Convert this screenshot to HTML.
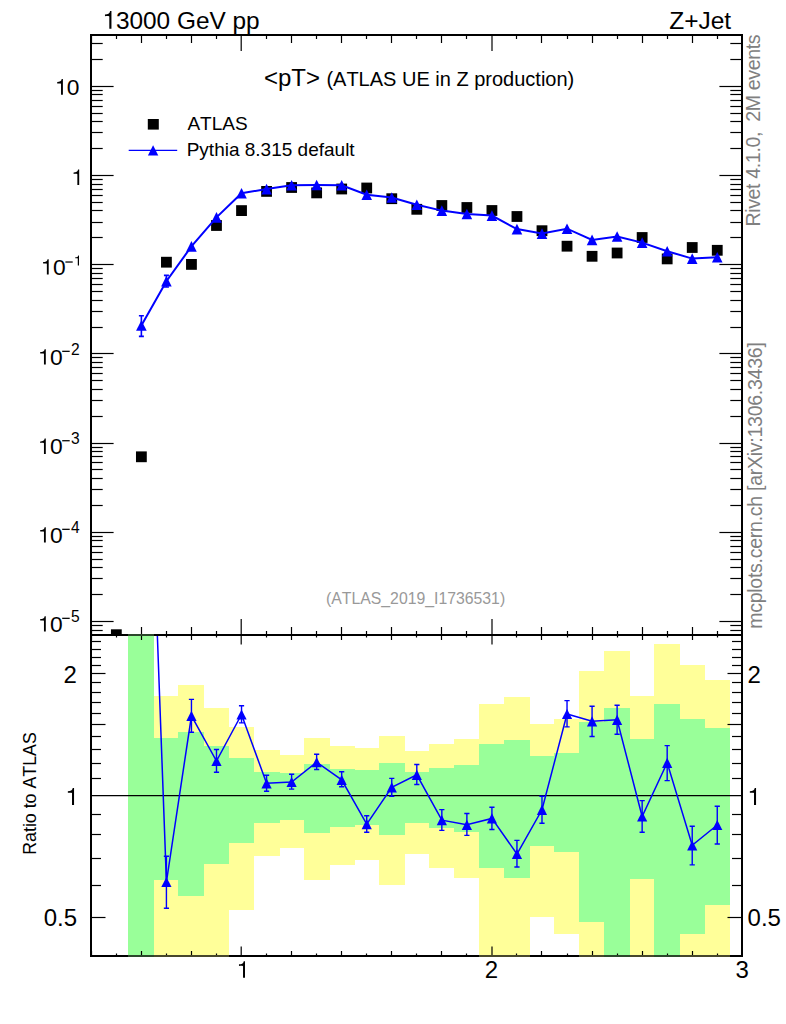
<!DOCTYPE html><html><head><meta charset="utf-8"><style>html,body{margin:0;padding:0;background:#fff;width:786px;height:1024px;overflow:hidden}</style></head><body><svg width="786" height="1024" viewBox="0 0 786 1024" style="position:absolute;left:0;top:0"><defs><clipPath id="cm"><rect x="91" y="35" width="651" height="599"/></clipPath><clipPath id="cr"><rect x="91" y="635" width="651" height="321"/></clipPath></defs><g clip-path="url(#cr)" shape-rendering="crispEdges"><rect x="128.00" y="635" width="26.00" height="321.00" fill="#99ff99"/><rect x="154.00" y="695.9" width="24.00" height="260.10" fill="#ffff99"/><rect x="154.00" y="738.3" width="24.00" height="141.40" fill="#99ff99"/><rect x="178.00" y="685" width="26.00" height="271.00" fill="#ffff99"/><rect x="178.00" y="731.6" width="26.00" height="164.00" fill="#99ff99"/><rect x="204.00" y="707.5" width="25.00" height="248.50" fill="#ffff99"/><rect x="204.00" y="746" width="25.00" height="118.00" fill="#99ff99"/><rect x="229.00" y="727" width="25.00" height="183.00" fill="#ffff99"/><rect x="229.00" y="757.8" width="25.00" height="85.50" fill="#99ff99"/><rect x="254.00" y="750.3" width="26.00" height="105.40" fill="#ffff99"/><rect x="254.00" y="771.7" width="26.00" height="51.10" fill="#99ff99"/><rect x="280.00" y="754.7" width="24.00" height="93.30" fill="#ffff99"/><rect x="280.00" y="773.4" width="24.00" height="46.70" fill="#99ff99"/><rect x="304.00" y="737.8" width="26.00" height="142.20" fill="#ffff99"/><rect x="304.00" y="764.2" width="26.00" height="68.80" fill="#99ff99"/><rect x="330.00" y="746.2" width="25.00" height="118.80" fill="#ffff99"/><rect x="330.00" y="769" width="25.00" height="58.20" fill="#99ff99"/><rect x="355.00" y="748" width="24.00" height="112.10" fill="#ffff99"/><rect x="355.00" y="770.2" width="24.00" height="54.50" fill="#99ff99"/><rect x="379.00" y="736" width="26.00" height="149.00" fill="#ffff99"/><rect x="379.00" y="763" width="26.00" height="71.60" fill="#99ff99"/><rect x="405.00" y="750.6" width="24.00" height="103.40" fill="#ffff99"/><rect x="405.00" y="772" width="24.00" height="50.80" fill="#99ff99"/><rect x="429.00" y="744" width="25.00" height="124.10" fill="#ffff99"/><rect x="429.00" y="767.7" width="25.00" height="60.20" fill="#99ff99"/><rect x="454.00" y="739" width="25.00" height="139.00" fill="#ffff99"/><rect x="454.00" y="765.2" width="25.00" height="66.80" fill="#99ff99"/><rect x="479.00" y="704.1" width="25.00" height="251.90" fill="#ffff99"/><rect x="479.00" y="744.2" width="25.00" height="124.20" fill="#99ff99"/><rect x="504.00" y="697.4" width="26.00" height="258.60" fill="#ffff99"/><rect x="504.00" y="739.7" width="26.00" height="137.90" fill="#99ff99"/><rect x="530.00" y="724.1" width="24.00" height="192.70" fill="#ffff99"/><rect x="530.00" y="756.1" width="24.00" height="90.00" fill="#99ff99"/><rect x="554.00" y="719.3" width="25.00" height="214.60" fill="#ffff99"/><rect x="554.00" y="753.1" width="25.00" height="98.40" fill="#99ff99"/><rect x="579.00" y="671.2" width="25.00" height="284.80" fill="#ffff99"/><rect x="579.00" y="722" width="25.00" height="199.90" fill="#99ff99"/><rect x="604.00" y="650.5" width="26.00" height="305.50" fill="#ffff99"/><rect x="604.00" y="707.9" width="26.00" height="248.10" fill="#99ff99"/><rect x="630.00" y="695.8" width="24.00" height="260.20" fill="#ffff99"/><rect x="630.00" y="738.9" width="24.00" height="140.10" fill="#99ff99"/><rect x="654.00" y="643.8" width="26.00" height="312.20" fill="#ffff99"/><rect x="654.00" y="704.3" width="26.00" height="251.70" fill="#99ff99"/><rect x="680.00" y="665.2" width="25.00" height="290.80" fill="#ffff99"/><rect x="680.00" y="718.5" width="25.00" height="215.60" fill="#99ff99"/><rect x="705.00" y="679.9" width="25.00" height="276.10" fill="#ffff99"/><rect x="705.00" y="728.1" width="25.00" height="176.90" fill="#99ff99"/></g><line x1="91.0" y1="795.6" x2="742.0" y2="795.6" stroke="#000" stroke-width="1.3"/><g clip-path="url(#cm)"><rect x="135.98" y="451.40" width="10.8" height="10.8" fill="#000"/><rect x="161.02" y="256.80" width="10.8" height="10.8" fill="#000"/><rect x="186.05" y="259.00" width="10.8" height="10.8" fill="#000"/><rect x="211.09" y="220.10" width="10.8" height="10.8" fill="#000"/><rect x="236.13" y="205.20" width="10.8" height="10.8" fill="#000"/><rect x="261.17" y="186.00" width="10.8" height="10.8" fill="#000"/><rect x="286.21" y="182.10" width="10.8" height="10.8" fill="#000"/><rect x="311.25" y="187.50" width="10.8" height="10.8" fill="#000"/><rect x="336.28" y="183.60" width="10.8" height="10.8" fill="#000"/><rect x="361.32" y="182.60" width="10.8" height="10.8" fill="#000"/><rect x="386.36" y="193.30" width="10.8" height="10.8" fill="#000"/><rect x="411.40" y="203.90" width="10.8" height="10.8" fill="#000"/><rect x="436.44" y="200.10" width="10.8" height="10.8" fill="#000"/><rect x="461.48" y="202.10" width="10.8" height="10.8" fill="#000"/><rect x="486.52" y="205.10" width="10.8" height="10.8" fill="#000"/><rect x="511.55" y="211.10" width="10.8" height="10.8" fill="#000"/><rect x="536.59" y="225.30" width="10.8" height="10.8" fill="#000"/><rect x="561.63" y="240.80" width="10.8" height="10.8" fill="#000"/><rect x="586.67" y="250.90" width="10.8" height="10.8" fill="#000"/><rect x="611.71" y="247.60" width="10.8" height="10.8" fill="#000"/><rect x="636.75" y="232.10" width="10.8" height="10.8" fill="#000"/><rect x="661.78" y="253.50" width="10.8" height="10.8" fill="#000"/><rect x="686.82" y="242.10" width="10.8" height="10.8" fill="#000"/><rect x="711.86" y="244.90" width="10.8" height="10.8" fill="#000"/><rect x="110.94" y="629.3" width="10.8" height="10.8" fill="#000"/><path d="M141.38,315.70 V336.40 M138.88,315.70 H143.88 M138.88,336.40 H143.88" stroke="#0000ff" stroke-width="1.6" fill="none"/><path d="M166.42,275.40 V287.00 M163.92,275.40 H168.92 M163.92,287.00 H168.92" stroke="#0000ff" stroke-width="1.6" fill="none"/><polyline points="141.38,325.50 166.42,281.20 191.45,246.40 216.49,217.40 241.53,193.20 266.57,189.10 291.61,185.20 316.65,185.00 341.68,185.20 366.72,194.80 391.76,197.50 416.80,204.80 441.84,210.60 466.88,214.00 491.92,215.60 516.95,229.10 541.99,233.60 567.03,228.70 592.07,239.90 617.11,236.50 642.15,242.60 667.18,251.20 692.22,258.60 717.26,257.20" fill="none" stroke="#0000ff" stroke-width="2"/><path d="M136.08,330.80 L146.68,330.80 L141.38,320.20 Z" fill="#0000ff"/><path d="M161.12,286.50 L171.72,286.50 L166.42,275.90 Z" fill="#0000ff"/><path d="M186.15,251.70 L196.75,251.70 L191.45,241.10 Z" fill="#0000ff"/><path d="M211.19,222.70 L221.79,222.70 L216.49,212.10 Z" fill="#0000ff"/><path d="M236.23,198.50 L246.83,198.50 L241.53,187.90 Z" fill="#0000ff"/><path d="M261.27,194.40 L271.87,194.40 L266.57,183.80 Z" fill="#0000ff"/><path d="M286.31,190.50 L296.91,190.50 L291.61,179.90 Z" fill="#0000ff"/><path d="M311.35,190.30 L321.95,190.30 L316.65,179.70 Z" fill="#0000ff"/><path d="M336.38,190.50 L346.98,190.50 L341.68,179.90 Z" fill="#0000ff"/><path d="M361.42,200.10 L372.02,200.10 L366.72,189.50 Z" fill="#0000ff"/><path d="M386.46,202.80 L397.06,202.80 L391.76,192.20 Z" fill="#0000ff"/><path d="M411.50,210.10 L422.10,210.10 L416.80,199.50 Z" fill="#0000ff"/><path d="M436.54,215.90 L447.14,215.90 L441.84,205.30 Z" fill="#0000ff"/><path d="M461.58,219.30 L472.18,219.30 L466.88,208.70 Z" fill="#0000ff"/><path d="M486.62,220.90 L497.22,220.90 L491.92,210.30 Z" fill="#0000ff"/><path d="M511.65,234.40 L522.25,234.40 L516.95,223.80 Z" fill="#0000ff"/><path d="M536.69,238.90 L547.29,238.90 L541.99,228.30 Z" fill="#0000ff"/><path d="M561.73,234.00 L572.33,234.00 L567.03,223.40 Z" fill="#0000ff"/><path d="M586.77,245.20 L597.37,245.20 L592.07,234.60 Z" fill="#0000ff"/><path d="M611.81,241.80 L622.41,241.80 L617.11,231.20 Z" fill="#0000ff"/><path d="M636.85,247.90 L647.45,247.90 L642.15,237.30 Z" fill="#0000ff"/><path d="M661.88,256.50 L672.48,256.50 L667.18,245.90 Z" fill="#0000ff"/><path d="M686.92,263.90 L697.52,263.90 L692.22,253.30 Z" fill="#0000ff"/><path d="M711.96,262.50 L722.56,262.50 L717.26,251.90 Z" fill="#0000ff"/></g><g clip-path="url(#cr)"><polyline points="141.38,200.93 166.42,882.00 191.45,715.80 216.49,761.00 241.53,714.50 266.57,783.30 291.61,782.00 316.65,762.20 341.68,779.80 366.72,824.20 391.76,787.40 416.80,774.80 441.84,820.20 466.88,824.80 491.92,818.40 516.95,854.00 541.99,809.80 567.03,714.00 592.07,721.30 617.11,719.80 642.15,816.50 667.18,762.80 692.22,845.30 717.26,825.00" fill="none" stroke="#0000ff" stroke-width="1.5"/><path d="M166.42,856.30 V908.30 M163.82,856.30 H169.02 M163.82,908.30 H169.02" stroke="#0000ff" stroke-width="1.4" fill="none"/><path d="M191.45,699.40 V732.30 M188.85,699.40 H194.05 M188.85,732.30 H194.05" stroke="#0000ff" stroke-width="1.4" fill="none"/><path d="M216.49,749.50 V772.20 M213.89,749.50 H219.09 M213.89,772.20 H219.09" stroke="#0000ff" stroke-width="1.4" fill="none"/><path d="M241.53,705.70 V722.90 M238.93,705.70 H244.13 M238.93,722.90 H244.13" stroke="#0000ff" stroke-width="1.4" fill="none"/><path d="M266.57,775.20 V791.20 M263.97,775.20 H269.17 M263.97,791.20 H269.17" stroke="#0000ff" stroke-width="1.4" fill="none"/><path d="M291.61,774.30 V789.10 M289.01,774.30 H294.21 M289.01,789.10 H294.21" stroke="#0000ff" stroke-width="1.4" fill="none"/><path d="M316.65,754.20 V769.50 M314.05,754.20 H319.25 M314.05,769.50 H319.25" stroke="#0000ff" stroke-width="1.4" fill="none"/><path d="M341.68,771.70 V786.80 M339.08,771.70 H344.28 M339.08,786.80 H344.28" stroke="#0000ff" stroke-width="1.4" fill="none"/><path d="M366.72,815.70 V832.20 M364.12,815.70 H369.32 M364.12,832.20 H369.32" stroke="#0000ff" stroke-width="1.4" fill="none"/><path d="M391.76,778.40 V796.20 M389.16,778.40 H394.36 M389.16,796.20 H394.36" stroke="#0000ff" stroke-width="1.4" fill="none"/><path d="M416.80,764.50 V784.50 M414.20,764.50 H419.40 M414.20,784.50 H419.40" stroke="#0000ff" stroke-width="1.4" fill="none"/><path d="M441.84,809.60 V830.40 M439.24,809.60 H444.44 M439.24,830.40 H444.44" stroke="#0000ff" stroke-width="1.4" fill="none"/><path d="M466.88,813.50 V835.40 M464.28,813.50 H469.48 M464.28,835.40 H469.48" stroke="#0000ff" stroke-width="1.4" fill="none"/><path d="M491.92,807.30 V829.50 M489.32,807.30 H494.52 M489.32,829.50 H494.52" stroke="#0000ff" stroke-width="1.4" fill="none"/><path d="M516.95,840.40 V867.00 M514.35,840.40 H519.55 M514.35,867.00 H519.55" stroke="#0000ff" stroke-width="1.4" fill="none"/><path d="M541.99,796.20 V823.30 M539.39,796.20 H544.59 M539.39,823.30 H544.59" stroke="#0000ff" stroke-width="1.4" fill="none"/><path d="M567.03,700.60 V726.90 M564.43,700.60 H569.63 M564.43,726.90 H569.63" stroke="#0000ff" stroke-width="1.4" fill="none"/><path d="M592.07,706.30 V736.50 M589.47,706.30 H594.67 M589.47,736.50 H594.67" stroke="#0000ff" stroke-width="1.4" fill="none"/><path d="M617.11,705.30 V734.20 M614.51,705.30 H619.71 M614.51,734.20 H619.71" stroke="#0000ff" stroke-width="1.4" fill="none"/><path d="M642.15,800.60 V832.30 M639.55,800.60 H644.75 M639.55,832.30 H644.75" stroke="#0000ff" stroke-width="1.4" fill="none"/><path d="M667.18,745.60 V780.60 M664.58,745.60 H669.78 M664.58,780.60 H669.78" stroke="#0000ff" stroke-width="1.4" fill="none"/><path d="M692.22,826.20 V864.90 M689.62,826.20 H694.82 M689.62,864.90 H694.82" stroke="#0000ff" stroke-width="1.4" fill="none"/><path d="M717.26,806.30 V844.00 M714.66,806.30 H719.86 M714.66,844.00 H719.86" stroke="#0000ff" stroke-width="1.4" fill="none"/><path d="M161.32,887.10 L171.52,887.10 L166.42,876.90 Z" fill="#0000ff"/><path d="M186.35,720.90 L196.55,720.90 L191.45,710.70 Z" fill="#0000ff"/><path d="M211.39,766.10 L221.59,766.10 L216.49,755.90 Z" fill="#0000ff"/><path d="M236.43,719.60 L246.63,719.60 L241.53,709.40 Z" fill="#0000ff"/><path d="M261.47,788.40 L271.67,788.40 L266.57,778.20 Z" fill="#0000ff"/><path d="M286.51,787.10 L296.71,787.10 L291.61,776.90 Z" fill="#0000ff"/><path d="M311.55,767.30 L321.75,767.30 L316.65,757.10 Z" fill="#0000ff"/><path d="M336.58,784.90 L346.78,784.90 L341.68,774.70 Z" fill="#0000ff"/><path d="M361.62,829.30 L371.82,829.30 L366.72,819.10 Z" fill="#0000ff"/><path d="M386.66,792.50 L396.86,792.50 L391.76,782.30 Z" fill="#0000ff"/><path d="M411.70,779.90 L421.90,779.90 L416.80,769.70 Z" fill="#0000ff"/><path d="M436.74,825.30 L446.94,825.30 L441.84,815.10 Z" fill="#0000ff"/><path d="M461.78,829.90 L471.98,829.90 L466.88,819.70 Z" fill="#0000ff"/><path d="M486.82,823.50 L497.02,823.50 L491.92,813.30 Z" fill="#0000ff"/><path d="M511.85,859.10 L522.05,859.10 L516.95,848.90 Z" fill="#0000ff"/><path d="M536.89,814.90 L547.09,814.90 L541.99,804.70 Z" fill="#0000ff"/><path d="M561.93,719.10 L572.13,719.10 L567.03,708.90 Z" fill="#0000ff"/><path d="M586.97,726.40 L597.17,726.40 L592.07,716.20 Z" fill="#0000ff"/><path d="M612.01,724.90 L622.21,724.90 L617.11,714.70 Z" fill="#0000ff"/><path d="M637.05,821.60 L647.25,821.60 L642.15,811.40 Z" fill="#0000ff"/><path d="M662.08,767.90 L672.28,767.90 L667.18,757.70 Z" fill="#0000ff"/><path d="M687.12,850.40 L697.32,850.40 L692.22,840.20 Z" fill="#0000ff"/><path d="M712.16,830.10 L722.36,830.10 L717.26,819.90 Z" fill="#0000ff"/></g><rect x="91.0" y="35.0" width="651.0" height="921.0" fill="none" stroke="#000" stroke-width="2"/><line x1="91.0" y1="635.0" x2="742.0" y2="635.0" stroke="#000" stroke-width="2"/><line x1="91.50" y1="35.00" x2="91.50" y2="43.00" stroke="#000" stroke-width="1.2"/><line x1="91.50" y1="635.00" x2="91.50" y2="627.00" stroke="#000" stroke-width="1.2"/><line x1="91.50" y1="635.00" x2="91.50" y2="640.00" stroke="#000" stroke-width="1.2"/><line x1="91.50" y1="956.00" x2="91.50" y2="951.00" stroke="#000" stroke-width="1.2"/><line x1="116.50" y1="35.00" x2="116.50" y2="39.00" stroke="#000" stroke-width="1.2"/><line x1="116.50" y1="635.00" x2="116.50" y2="631.00" stroke="#000" stroke-width="1.2"/><line x1="116.50" y1="635.00" x2="116.50" y2="637.50" stroke="#000" stroke-width="1.2"/><line x1="116.50" y1="956.00" x2="116.50" y2="953.50" stroke="#000" stroke-width="1.2"/><line x1="141.50" y1="35.00" x2="141.50" y2="43.00" stroke="#000" stroke-width="1.2"/><line x1="141.50" y1="635.00" x2="141.50" y2="627.00" stroke="#000" stroke-width="1.2"/><line x1="141.50" y1="635.00" x2="141.50" y2="640.00" stroke="#000" stroke-width="1.2"/><line x1="141.50" y1="956.00" x2="141.50" y2="951.00" stroke="#000" stroke-width="1.2"/><line x1="166.50" y1="35.00" x2="166.50" y2="39.00" stroke="#000" stroke-width="1.2"/><line x1="166.50" y1="635.00" x2="166.50" y2="631.00" stroke="#000" stroke-width="1.2"/><line x1="166.50" y1="635.00" x2="166.50" y2="637.50" stroke="#000" stroke-width="1.2"/><line x1="166.50" y1="956.00" x2="166.50" y2="953.50" stroke="#000" stroke-width="1.2"/><line x1="191.50" y1="35.00" x2="191.50" y2="43.00" stroke="#000" stroke-width="1.2"/><line x1="191.50" y1="635.00" x2="191.50" y2="627.00" stroke="#000" stroke-width="1.2"/><line x1="191.50" y1="635.00" x2="191.50" y2="640.00" stroke="#000" stroke-width="1.2"/><line x1="191.50" y1="956.00" x2="191.50" y2="951.00" stroke="#000" stroke-width="1.2"/><line x1="216.50" y1="35.00" x2="216.50" y2="39.00" stroke="#000" stroke-width="1.2"/><line x1="216.50" y1="635.00" x2="216.50" y2="631.00" stroke="#000" stroke-width="1.2"/><line x1="216.50" y1="635.00" x2="216.50" y2="637.50" stroke="#000" stroke-width="1.2"/><line x1="216.50" y1="956.00" x2="216.50" y2="953.50" stroke="#000" stroke-width="1.2"/><line x1="241.20" y1="35.00" x2="241.20" y2="51.00" stroke="#000" stroke-width="1.2"/><line x1="241.20" y1="635.00" x2="241.20" y2="619.00" stroke="#000" stroke-width="1.2"/><line x1="241.20" y1="635.00" x2="241.20" y2="644.50" stroke="#000" stroke-width="1.2"/><line x1="241.20" y1="956.00" x2="241.20" y2="946.50" stroke="#000" stroke-width="1.2"/><line x1="266.50" y1="35.00" x2="266.50" y2="39.00" stroke="#000" stroke-width="1.2"/><line x1="266.50" y1="635.00" x2="266.50" y2="631.00" stroke="#000" stroke-width="1.2"/><line x1="266.50" y1="635.00" x2="266.50" y2="637.50" stroke="#000" stroke-width="1.2"/><line x1="266.50" y1="956.00" x2="266.50" y2="953.50" stroke="#000" stroke-width="1.2"/><line x1="291.50" y1="35.00" x2="291.50" y2="43.00" stroke="#000" stroke-width="1.2"/><line x1="291.50" y1="635.00" x2="291.50" y2="627.00" stroke="#000" stroke-width="1.2"/><line x1="291.50" y1="635.00" x2="291.50" y2="640.00" stroke="#000" stroke-width="1.2"/><line x1="291.50" y1="956.00" x2="291.50" y2="951.00" stroke="#000" stroke-width="1.2"/><line x1="316.50" y1="35.00" x2="316.50" y2="39.00" stroke="#000" stroke-width="1.2"/><line x1="316.50" y1="635.00" x2="316.50" y2="631.00" stroke="#000" stroke-width="1.2"/><line x1="316.50" y1="635.00" x2="316.50" y2="637.50" stroke="#000" stroke-width="1.2"/><line x1="316.50" y1="956.00" x2="316.50" y2="953.50" stroke="#000" stroke-width="1.2"/><line x1="341.50" y1="35.00" x2="341.50" y2="43.00" stroke="#000" stroke-width="1.2"/><line x1="341.50" y1="635.00" x2="341.50" y2="627.00" stroke="#000" stroke-width="1.2"/><line x1="341.50" y1="635.00" x2="341.50" y2="640.00" stroke="#000" stroke-width="1.2"/><line x1="341.50" y1="956.00" x2="341.50" y2="951.00" stroke="#000" stroke-width="1.2"/><line x1="366.50" y1="35.00" x2="366.50" y2="39.00" stroke="#000" stroke-width="1.2"/><line x1="366.50" y1="635.00" x2="366.50" y2="631.00" stroke="#000" stroke-width="1.2"/><line x1="366.50" y1="635.00" x2="366.50" y2="637.50" stroke="#000" stroke-width="1.2"/><line x1="366.50" y1="956.00" x2="366.50" y2="953.50" stroke="#000" stroke-width="1.2"/><line x1="391.50" y1="35.00" x2="391.50" y2="43.00" stroke="#000" stroke-width="1.2"/><line x1="391.50" y1="635.00" x2="391.50" y2="627.00" stroke="#000" stroke-width="1.2"/><line x1="391.50" y1="635.00" x2="391.50" y2="640.00" stroke="#000" stroke-width="1.2"/><line x1="391.50" y1="956.00" x2="391.50" y2="951.00" stroke="#000" stroke-width="1.2"/><line x1="416.50" y1="35.00" x2="416.50" y2="39.00" stroke="#000" stroke-width="1.2"/><line x1="416.50" y1="635.00" x2="416.50" y2="631.00" stroke="#000" stroke-width="1.2"/><line x1="416.50" y1="635.00" x2="416.50" y2="637.50" stroke="#000" stroke-width="1.2"/><line x1="416.50" y1="956.00" x2="416.50" y2="953.50" stroke="#000" stroke-width="1.2"/><line x1="441.50" y1="35.00" x2="441.50" y2="43.00" stroke="#000" stroke-width="1.2"/><line x1="441.50" y1="635.00" x2="441.50" y2="627.00" stroke="#000" stroke-width="1.2"/><line x1="441.50" y1="635.00" x2="441.50" y2="640.00" stroke="#000" stroke-width="1.2"/><line x1="441.50" y1="956.00" x2="441.50" y2="951.00" stroke="#000" stroke-width="1.2"/><line x1="466.50" y1="35.00" x2="466.50" y2="39.00" stroke="#000" stroke-width="1.2"/><line x1="466.50" y1="635.00" x2="466.50" y2="631.00" stroke="#000" stroke-width="1.2"/><line x1="466.50" y1="635.00" x2="466.50" y2="637.50" stroke="#000" stroke-width="1.2"/><line x1="466.50" y1="956.00" x2="466.50" y2="953.50" stroke="#000" stroke-width="1.2"/><line x1="492.00" y1="35.00" x2="492.00" y2="51.00" stroke="#000" stroke-width="1.2"/><line x1="492.00" y1="635.00" x2="492.00" y2="619.00" stroke="#000" stroke-width="1.2"/><line x1="492.00" y1="635.00" x2="492.00" y2="644.50" stroke="#000" stroke-width="1.2"/><line x1="492.00" y1="956.00" x2="492.00" y2="946.50" stroke="#000" stroke-width="1.2"/><line x1="516.50" y1="35.00" x2="516.50" y2="39.00" stroke="#000" stroke-width="1.2"/><line x1="516.50" y1="635.00" x2="516.50" y2="631.00" stroke="#000" stroke-width="1.2"/><line x1="516.50" y1="635.00" x2="516.50" y2="637.50" stroke="#000" stroke-width="1.2"/><line x1="516.50" y1="956.00" x2="516.50" y2="953.50" stroke="#000" stroke-width="1.2"/><line x1="541.50" y1="35.00" x2="541.50" y2="43.00" stroke="#000" stroke-width="1.2"/><line x1="541.50" y1="635.00" x2="541.50" y2="627.00" stroke="#000" stroke-width="1.2"/><line x1="541.50" y1="635.00" x2="541.50" y2="640.00" stroke="#000" stroke-width="1.2"/><line x1="541.50" y1="956.00" x2="541.50" y2="951.00" stroke="#000" stroke-width="1.2"/><line x1="567.50" y1="35.00" x2="567.50" y2="39.00" stroke="#000" stroke-width="1.2"/><line x1="567.50" y1="635.00" x2="567.50" y2="631.00" stroke="#000" stroke-width="1.2"/><line x1="567.50" y1="635.00" x2="567.50" y2="637.50" stroke="#000" stroke-width="1.2"/><line x1="567.50" y1="956.00" x2="567.50" y2="953.50" stroke="#000" stroke-width="1.2"/><line x1="592.50" y1="35.00" x2="592.50" y2="43.00" stroke="#000" stroke-width="1.2"/><line x1="592.50" y1="635.00" x2="592.50" y2="627.00" stroke="#000" stroke-width="1.2"/><line x1="592.50" y1="635.00" x2="592.50" y2="640.00" stroke="#000" stroke-width="1.2"/><line x1="592.50" y1="956.00" x2="592.50" y2="951.00" stroke="#000" stroke-width="1.2"/><line x1="617.50" y1="35.00" x2="617.50" y2="39.00" stroke="#000" stroke-width="1.2"/><line x1="617.50" y1="635.00" x2="617.50" y2="631.00" stroke="#000" stroke-width="1.2"/><line x1="617.50" y1="635.00" x2="617.50" y2="637.50" stroke="#000" stroke-width="1.2"/><line x1="617.50" y1="956.00" x2="617.50" y2="953.50" stroke="#000" stroke-width="1.2"/><line x1="642.50" y1="35.00" x2="642.50" y2="43.00" stroke="#000" stroke-width="1.2"/><line x1="642.50" y1="635.00" x2="642.50" y2="627.00" stroke="#000" stroke-width="1.2"/><line x1="642.50" y1="635.00" x2="642.50" y2="640.00" stroke="#000" stroke-width="1.2"/><line x1="642.50" y1="956.00" x2="642.50" y2="951.00" stroke="#000" stroke-width="1.2"/><line x1="667.50" y1="35.00" x2="667.50" y2="39.00" stroke="#000" stroke-width="1.2"/><line x1="667.50" y1="635.00" x2="667.50" y2="631.00" stroke="#000" stroke-width="1.2"/><line x1="667.50" y1="635.00" x2="667.50" y2="637.50" stroke="#000" stroke-width="1.2"/><line x1="667.50" y1="956.00" x2="667.50" y2="953.50" stroke="#000" stroke-width="1.2"/><line x1="692.50" y1="35.00" x2="692.50" y2="43.00" stroke="#000" stroke-width="1.2"/><line x1="692.50" y1="635.00" x2="692.50" y2="627.00" stroke="#000" stroke-width="1.2"/><line x1="692.50" y1="635.00" x2="692.50" y2="640.00" stroke="#000" stroke-width="1.2"/><line x1="692.50" y1="956.00" x2="692.50" y2="951.00" stroke="#000" stroke-width="1.2"/><line x1="717.50" y1="35.00" x2="717.50" y2="39.00" stroke="#000" stroke-width="1.2"/><line x1="717.50" y1="635.00" x2="717.50" y2="631.00" stroke="#000" stroke-width="1.2"/><line x1="717.50" y1="635.00" x2="717.50" y2="637.50" stroke="#000" stroke-width="1.2"/><line x1="717.50" y1="956.00" x2="717.50" y2="953.50" stroke="#000" stroke-width="1.2"/><line x1="742.00" y1="35.00" x2="742.00" y2="51.00" stroke="#000" stroke-width="1.2"/><line x1="742.00" y1="635.00" x2="742.00" y2="619.00" stroke="#000" stroke-width="1.2"/><line x1="742.00" y1="635.00" x2="742.00" y2="644.50" stroke="#000" stroke-width="1.2"/><line x1="742.00" y1="956.00" x2="742.00" y2="946.50" stroke="#000" stroke-width="1.2"/><line x1="91.00" y1="630.50" x2="102.70" y2="630.50" stroke="#000" stroke-width="1.2"/><line x1="742.00" y1="630.50" x2="730.30" y2="630.50" stroke="#000" stroke-width="1.2"/><line x1="91.00" y1="625.50" x2="102.70" y2="625.50" stroke="#000" stroke-width="1.2"/><line x1="742.00" y1="625.50" x2="730.30" y2="625.50" stroke="#000" stroke-width="1.2"/><line x1="91.00" y1="621.50" x2="113.60" y2="621.50" stroke="#000" stroke-width="1.2"/><line x1="742.00" y1="621.50" x2="719.40" y2="621.50" stroke="#000" stroke-width="1.2"/><line x1="91.00" y1="594.50" x2="102.70" y2="594.50" stroke="#000" stroke-width="1.2"/><line x1="742.00" y1="594.50" x2="730.30" y2="594.50" stroke="#000" stroke-width="1.2"/><line x1="91.00" y1="578.50" x2="102.70" y2="578.50" stroke="#000" stroke-width="1.2"/><line x1="742.00" y1="578.50" x2="730.30" y2="578.50" stroke="#000" stroke-width="1.2"/><line x1="91.00" y1="567.50" x2="102.70" y2="567.50" stroke="#000" stroke-width="1.2"/><line x1="742.00" y1="567.50" x2="730.30" y2="567.50" stroke="#000" stroke-width="1.2"/><line x1="91.00" y1="559.50" x2="102.70" y2="559.50" stroke="#000" stroke-width="1.2"/><line x1="742.00" y1="559.50" x2="730.30" y2="559.50" stroke="#000" stroke-width="1.2"/><line x1="91.00" y1="552.50" x2="102.70" y2="552.50" stroke="#000" stroke-width="1.2"/><line x1="742.00" y1="552.50" x2="730.30" y2="552.50" stroke="#000" stroke-width="1.2"/><line x1="91.00" y1="546.50" x2="102.70" y2="546.50" stroke="#000" stroke-width="1.2"/><line x1="742.00" y1="546.50" x2="730.30" y2="546.50" stroke="#000" stroke-width="1.2"/><line x1="91.00" y1="540.50" x2="102.70" y2="540.50" stroke="#000" stroke-width="1.2"/><line x1="742.00" y1="540.50" x2="730.30" y2="540.50" stroke="#000" stroke-width="1.2"/><line x1="91.00" y1="536.50" x2="102.70" y2="536.50" stroke="#000" stroke-width="1.2"/><line x1="742.00" y1="536.50" x2="730.30" y2="536.50" stroke="#000" stroke-width="1.2"/><line x1="91.00" y1="532.50" x2="113.60" y2="532.50" stroke="#000" stroke-width="1.2"/><line x1="742.00" y1="532.50" x2="719.40" y2="532.50" stroke="#000" stroke-width="1.2"/><line x1="91.00" y1="505.50" x2="102.70" y2="505.50" stroke="#000" stroke-width="1.2"/><line x1="742.00" y1="505.50" x2="730.30" y2="505.50" stroke="#000" stroke-width="1.2"/><line x1="91.00" y1="489.50" x2="102.70" y2="489.50" stroke="#000" stroke-width="1.2"/><line x1="742.00" y1="489.50" x2="730.30" y2="489.50" stroke="#000" stroke-width="1.2"/><line x1="91.00" y1="478.50" x2="102.70" y2="478.50" stroke="#000" stroke-width="1.2"/><line x1="742.00" y1="478.50" x2="730.30" y2="478.50" stroke="#000" stroke-width="1.2"/><line x1="91.00" y1="469.50" x2="102.70" y2="469.50" stroke="#000" stroke-width="1.2"/><line x1="742.00" y1="469.50" x2="730.30" y2="469.50" stroke="#000" stroke-width="1.2"/><line x1="91.00" y1="462.50" x2="102.70" y2="462.50" stroke="#000" stroke-width="1.2"/><line x1="742.00" y1="462.50" x2="730.30" y2="462.50" stroke="#000" stroke-width="1.2"/><line x1="91.00" y1="456.50" x2="102.70" y2="456.50" stroke="#000" stroke-width="1.2"/><line x1="742.00" y1="456.50" x2="730.30" y2="456.50" stroke="#000" stroke-width="1.2"/><line x1="91.00" y1="451.50" x2="102.70" y2="451.50" stroke="#000" stroke-width="1.2"/><line x1="742.00" y1="451.50" x2="730.30" y2="451.50" stroke="#000" stroke-width="1.2"/><line x1="91.00" y1="447.50" x2="102.70" y2="447.50" stroke="#000" stroke-width="1.2"/><line x1="742.00" y1="447.50" x2="730.30" y2="447.50" stroke="#000" stroke-width="1.2"/><line x1="91.00" y1="443.50" x2="113.60" y2="443.50" stroke="#000" stroke-width="1.2"/><line x1="742.00" y1="443.50" x2="719.40" y2="443.50" stroke="#000" stroke-width="1.2"/><line x1="91.00" y1="416.50" x2="102.70" y2="416.50" stroke="#000" stroke-width="1.2"/><line x1="742.00" y1="416.50" x2="730.30" y2="416.50" stroke="#000" stroke-width="1.2"/><line x1="91.00" y1="400.50" x2="102.70" y2="400.50" stroke="#000" stroke-width="1.2"/><line x1="742.00" y1="400.50" x2="730.30" y2="400.50" stroke="#000" stroke-width="1.2"/><line x1="91.00" y1="389.50" x2="102.70" y2="389.50" stroke="#000" stroke-width="1.2"/><line x1="742.00" y1="389.50" x2="730.30" y2="389.50" stroke="#000" stroke-width="1.2"/><line x1="91.00" y1="380.50" x2="102.70" y2="380.50" stroke="#000" stroke-width="1.2"/><line x1="742.00" y1="380.50" x2="730.30" y2="380.50" stroke="#000" stroke-width="1.2"/><line x1="91.00" y1="373.50" x2="102.70" y2="373.50" stroke="#000" stroke-width="1.2"/><line x1="742.00" y1="373.50" x2="730.30" y2="373.50" stroke="#000" stroke-width="1.2"/><line x1="91.00" y1="367.50" x2="102.70" y2="367.50" stroke="#000" stroke-width="1.2"/><line x1="742.00" y1="367.50" x2="730.30" y2="367.50" stroke="#000" stroke-width="1.2"/><line x1="91.00" y1="362.50" x2="102.70" y2="362.50" stroke="#000" stroke-width="1.2"/><line x1="742.00" y1="362.50" x2="730.30" y2="362.50" stroke="#000" stroke-width="1.2"/><line x1="91.00" y1="357.50" x2="102.70" y2="357.50" stroke="#000" stroke-width="1.2"/><line x1="742.00" y1="357.50" x2="730.30" y2="357.50" stroke="#000" stroke-width="1.2"/><line x1="91.00" y1="353.50" x2="113.60" y2="353.50" stroke="#000" stroke-width="1.2"/><line x1="742.00" y1="353.50" x2="719.40" y2="353.50" stroke="#000" stroke-width="1.2"/><line x1="91.00" y1="327.50" x2="102.70" y2="327.50" stroke="#000" stroke-width="1.2"/><line x1="742.00" y1="327.50" x2="730.30" y2="327.50" stroke="#000" stroke-width="1.2"/><line x1="91.00" y1="311.50" x2="102.70" y2="311.50" stroke="#000" stroke-width="1.2"/><line x1="742.00" y1="311.50" x2="730.30" y2="311.50" stroke="#000" stroke-width="1.2"/><line x1="91.00" y1="300.50" x2="102.70" y2="300.50" stroke="#000" stroke-width="1.2"/><line x1="742.00" y1="300.50" x2="730.30" y2="300.50" stroke="#000" stroke-width="1.2"/><line x1="91.00" y1="291.50" x2="102.70" y2="291.50" stroke="#000" stroke-width="1.2"/><line x1="742.00" y1="291.50" x2="730.30" y2="291.50" stroke="#000" stroke-width="1.2"/><line x1="91.00" y1="284.50" x2="102.70" y2="284.50" stroke="#000" stroke-width="1.2"/><line x1="742.00" y1="284.50" x2="730.30" y2="284.50" stroke="#000" stroke-width="1.2"/><line x1="91.00" y1="278.50" x2="102.70" y2="278.50" stroke="#000" stroke-width="1.2"/><line x1="742.00" y1="278.50" x2="730.30" y2="278.50" stroke="#000" stroke-width="1.2"/><line x1="91.00" y1="273.50" x2="102.70" y2="273.50" stroke="#000" stroke-width="1.2"/><line x1="742.00" y1="273.50" x2="730.30" y2="273.50" stroke="#000" stroke-width="1.2"/><line x1="91.00" y1="268.50" x2="102.70" y2="268.50" stroke="#000" stroke-width="1.2"/><line x1="742.00" y1="268.50" x2="730.30" y2="268.50" stroke="#000" stroke-width="1.2"/><line x1="91.00" y1="264.50" x2="113.60" y2="264.50" stroke="#000" stroke-width="1.2"/><line x1="742.00" y1="264.50" x2="719.40" y2="264.50" stroke="#000" stroke-width="1.2"/><line x1="91.00" y1="237.50" x2="102.70" y2="237.50" stroke="#000" stroke-width="1.2"/><line x1="742.00" y1="237.50" x2="730.30" y2="237.50" stroke="#000" stroke-width="1.2"/><line x1="91.00" y1="222.50" x2="102.70" y2="222.50" stroke="#000" stroke-width="1.2"/><line x1="742.00" y1="222.50" x2="730.30" y2="222.50" stroke="#000" stroke-width="1.2"/><line x1="91.00" y1="210.50" x2="102.70" y2="210.50" stroke="#000" stroke-width="1.2"/><line x1="742.00" y1="210.50" x2="730.30" y2="210.50" stroke="#000" stroke-width="1.2"/><line x1="91.00" y1="202.50" x2="102.70" y2="202.50" stroke="#000" stroke-width="1.2"/><line x1="742.00" y1="202.50" x2="730.30" y2="202.50" stroke="#000" stroke-width="1.2"/><line x1="91.00" y1="195.50" x2="102.70" y2="195.50" stroke="#000" stroke-width="1.2"/><line x1="742.00" y1="195.50" x2="730.30" y2="195.50" stroke="#000" stroke-width="1.2"/><line x1="91.00" y1="189.50" x2="102.70" y2="189.50" stroke="#000" stroke-width="1.2"/><line x1="742.00" y1="189.50" x2="730.30" y2="189.50" stroke="#000" stroke-width="1.2"/><line x1="91.00" y1="184.50" x2="102.70" y2="184.50" stroke="#000" stroke-width="1.2"/><line x1="742.00" y1="184.50" x2="730.30" y2="184.50" stroke="#000" stroke-width="1.2"/><line x1="91.00" y1="179.50" x2="102.70" y2="179.50" stroke="#000" stroke-width="1.2"/><line x1="742.00" y1="179.50" x2="730.30" y2="179.50" stroke="#000" stroke-width="1.2"/><line x1="91.00" y1="175.50" x2="113.60" y2="175.50" stroke="#000" stroke-width="1.2"/><line x1="742.00" y1="175.50" x2="719.40" y2="175.50" stroke="#000" stroke-width="1.2"/><line x1="91.00" y1="148.50" x2="102.70" y2="148.50" stroke="#000" stroke-width="1.2"/><line x1="742.00" y1="148.50" x2="730.30" y2="148.50" stroke="#000" stroke-width="1.2"/><line x1="91.00" y1="132.50" x2="102.70" y2="132.50" stroke="#000" stroke-width="1.2"/><line x1="742.00" y1="132.50" x2="730.30" y2="132.50" stroke="#000" stroke-width="1.2"/><line x1="91.00" y1="121.50" x2="102.70" y2="121.50" stroke="#000" stroke-width="1.2"/><line x1="742.00" y1="121.50" x2="730.30" y2="121.50" stroke="#000" stroke-width="1.2"/><line x1="91.00" y1="113.50" x2="102.70" y2="113.50" stroke="#000" stroke-width="1.2"/><line x1="742.00" y1="113.50" x2="730.30" y2="113.50" stroke="#000" stroke-width="1.2"/><line x1="91.00" y1="106.50" x2="102.70" y2="106.50" stroke="#000" stroke-width="1.2"/><line x1="742.00" y1="106.50" x2="730.30" y2="106.50" stroke="#000" stroke-width="1.2"/><line x1="91.00" y1="100.50" x2="102.70" y2="100.50" stroke="#000" stroke-width="1.2"/><line x1="742.00" y1="100.50" x2="730.30" y2="100.50" stroke="#000" stroke-width="1.2"/><line x1="91.00" y1="94.50" x2="102.70" y2="94.50" stroke="#000" stroke-width="1.2"/><line x1="742.00" y1="94.50" x2="730.30" y2="94.50" stroke="#000" stroke-width="1.2"/><line x1="91.00" y1="90.50" x2="102.70" y2="90.50" stroke="#000" stroke-width="1.2"/><line x1="742.00" y1="90.50" x2="730.30" y2="90.50" stroke="#000" stroke-width="1.2"/><line x1="91.00" y1="86.50" x2="113.60" y2="86.50" stroke="#000" stroke-width="1.2"/><line x1="742.00" y1="86.50" x2="719.40" y2="86.50" stroke="#000" stroke-width="1.2"/><line x1="91.00" y1="59.50" x2="102.70" y2="59.50" stroke="#000" stroke-width="1.2"/><line x1="742.00" y1="59.50" x2="730.30" y2="59.50" stroke="#000" stroke-width="1.2"/><line x1="91.00" y1="43.50" x2="102.70" y2="43.50" stroke="#000" stroke-width="1.2"/><line x1="742.00" y1="43.50" x2="730.30" y2="43.50" stroke="#000" stroke-width="1.2"/><line x1="91.00" y1="917.50" x2="105.50" y2="917.50" stroke="#000" stroke-width="1.2"/><line x1="742.00" y1="917.50" x2="727.50" y2="917.50" stroke="#000" stroke-width="1.2"/><line x1="91.00" y1="885.50" x2="101.00" y2="885.50" stroke="#000" stroke-width="1.2"/><line x1="742.00" y1="885.50" x2="732.00" y2="885.50" stroke="#000" stroke-width="1.2"/><line x1="91.00" y1="858.50" x2="101.00" y2="858.50" stroke="#000" stroke-width="1.2"/><line x1="742.00" y1="858.50" x2="732.00" y2="858.50" stroke="#000" stroke-width="1.2"/><line x1="91.00" y1="834.50" x2="101.00" y2="834.50" stroke="#000" stroke-width="1.2"/><line x1="742.00" y1="834.50" x2="732.00" y2="834.50" stroke="#000" stroke-width="1.2"/><line x1="91.00" y1="814.50" x2="101.00" y2="814.50" stroke="#000" stroke-width="1.2"/><line x1="742.00" y1="814.50" x2="732.00" y2="814.50" stroke="#000" stroke-width="1.2"/><line x1="91.00" y1="778.50" x2="101.00" y2="778.50" stroke="#000" stroke-width="1.2"/><line x1="742.00" y1="778.50" x2="732.00" y2="778.50" stroke="#000" stroke-width="1.2"/><line x1="91.00" y1="763.50" x2="101.00" y2="763.50" stroke="#000" stroke-width="1.2"/><line x1="742.00" y1="763.50" x2="732.00" y2="763.50" stroke="#000" stroke-width="1.2"/><line x1="91.00" y1="749.50" x2="101.00" y2="749.50" stroke="#000" stroke-width="1.2"/><line x1="742.00" y1="749.50" x2="732.00" y2="749.50" stroke="#000" stroke-width="1.2"/><line x1="91.00" y1="736.50" x2="101.00" y2="736.50" stroke="#000" stroke-width="1.2"/><line x1="742.00" y1="736.50" x2="732.00" y2="736.50" stroke="#000" stroke-width="1.2"/><line x1="91.00" y1="724.50" x2="105.50" y2="724.50" stroke="#000" stroke-width="1.2"/><line x1="742.00" y1="724.50" x2="727.50" y2="724.50" stroke="#000" stroke-width="1.2"/><line x1="91.00" y1="713.50" x2="101.00" y2="713.50" stroke="#000" stroke-width="1.2"/><line x1="742.00" y1="713.50" x2="732.00" y2="713.50" stroke="#000" stroke-width="1.2"/><line x1="91.00" y1="702.50" x2="101.00" y2="702.50" stroke="#000" stroke-width="1.2"/><line x1="742.00" y1="702.50" x2="732.00" y2="702.50" stroke="#000" stroke-width="1.2"/><line x1="91.00" y1="692.50" x2="101.00" y2="692.50" stroke="#000" stroke-width="1.2"/><line x1="742.00" y1="692.50" x2="732.00" y2="692.50" stroke="#000" stroke-width="1.2"/><line x1="91.00" y1="682.50" x2="101.00" y2="682.50" stroke="#000" stroke-width="1.2"/><line x1="742.00" y1="682.50" x2="732.00" y2="682.50" stroke="#000" stroke-width="1.2"/><line x1="91.00" y1="673.50" x2="105.50" y2="673.50" stroke="#000" stroke-width="1.2"/><line x1="742.00" y1="673.50" x2="727.50" y2="673.50" stroke="#000" stroke-width="1.2"/><line x1="91.00" y1="665.50" x2="101.00" y2="665.50" stroke="#000" stroke-width="1.2"/><line x1="742.00" y1="665.50" x2="732.00" y2="665.50" stroke="#000" stroke-width="1.2"/><line x1="91.00" y1="657.50" x2="101.00" y2="657.50" stroke="#000" stroke-width="1.2"/><line x1="742.00" y1="657.50" x2="732.00" y2="657.50" stroke="#000" stroke-width="1.2"/><line x1="91.00" y1="649.50" x2="101.00" y2="649.50" stroke="#000" stroke-width="1.2"/><line x1="742.00" y1="649.50" x2="732.00" y2="649.50" stroke="#000" stroke-width="1.2"/><line x1="91.00" y1="641.50" x2="101.00" y2="641.50" stroke="#000" stroke-width="1.2"/><line x1="742.00" y1="641.50" x2="732.00" y2="641.50" stroke="#000" stroke-width="1.2"/><rect x="128" y="634" width="26" height="2" fill="#99ff99" fill-opacity="0.28"/><rect x="128" y="955" width="26" height="2" fill="#99ff99" fill-opacity="0.28"/><rect x="154" y="955" width="24" height="2" fill="#ffff99" fill-opacity="0.28"/><rect x="178" y="955" width="26" height="2" fill="#ffff99" fill-opacity="0.28"/><rect x="204" y="955" width="25" height="2" fill="#ffff99" fill-opacity="0.28"/><rect x="479" y="955" width="25" height="2" fill="#ffff99" fill-opacity="0.28"/><rect x="504" y="955" width="26" height="2" fill="#ffff99" fill-opacity="0.28"/><rect x="579" y="955" width="25" height="2" fill="#ffff99" fill-opacity="0.28"/><rect x="604" y="955" width="26" height="2" fill="#99ff99" fill-opacity="0.28"/><rect x="630" y="955" width="24" height="2" fill="#ffff99" fill-opacity="0.28"/><rect x="654" y="955" width="26" height="2" fill="#99ff99" fill-opacity="0.28"/><rect x="680" y="955" width="25" height="2" fill="#ffff99" fill-opacity="0.28"/><rect x="705" y="955" width="25" height="2" fill="#ffff99" fill-opacity="0.28"/><path d="M111.45,28.85 L111.45,11.10 L110.12,11.10 C109.67,13.76 107.90,14.47 104.97,14.47 L104.97,16.16 C106.84,16.07 108.43,15.89 109.32,16.43 L109.32,28.85 Z" fill="#000"/><text x="115.9" y="29.2" style="font-family:'Liberation Sans',sans-serif;font-kerning:none;font-size:24.4px" text-anchor="start" fill="#000" >3000 GeV pp</text><text x="731.2" y="29.0" style="font-family:'Liberation Sans',sans-serif;font-kerning:none;font-size:24.5px" text-anchor="end" fill="#000" >Z+Jet</text><text x="264" y="86.2" style="font-family:'Liberation Sans',sans-serif;font-kerning:none;font-size:24px" text-anchor="start" fill="#000" >&lt;pT&gt;</text><text x="326.4" y="86.2" style="font-family:'Liberation Sans',sans-serif;font-kerning:none;font-size:20px" text-anchor="start" fill="#000" >(ATLAS UE in Z production)</text><text x="187.4" y="129.8" style="font-family:'Liberation Sans',sans-serif;font-kerning:none;font-size:19px" text-anchor="start" fill="#000" >ATLAS</text><text x="186.7" y="155.8" style="font-family:'Liberation Sans',sans-serif;font-kerning:none;font-size:19px" text-anchor="start" fill="#000" >Pythia 8.315 default</text><text x="415.6" y="604.2" style="font-family:'Liberation Sans',sans-serif;font-kerning:none;font-size:15.8px" text-anchor="middle" fill="#999999" >(ATLAS_2019_I1736531)</text><rect x="147.8" y="119" width="11" height="10.6" fill="#000"/><line x1="128.7" y1="150.4" x2="177.2" y2="150.4" stroke="#0000ff" stroke-width="1.3"/><path d="M147.90,155.60 L158.30,155.60 L153.10,145.20 Z" fill="#0000ff"/><text transform="translate(760.0,226.6) rotate(-90)" style="font-family:'Liberation Sans',sans-serif;font-kerning:none;font-size:19.6px;letter-spacing:-0.37px" fill="#808080">Rivet 4.1.0,&#160; 2M events</text><text transform="translate(762.1,628.8) rotate(-90)" style="font-family:'Liberation Sans',sans-serif;font-kerning:none;font-size:19.6px;letter-spacing:-0.3px" fill="#808080">mcplots.cern.ch [arXiv:1306.3436]</text><text transform="translate(35.9,793.5) rotate(-90)" style="font-family:'Liberation Sans',sans-serif;font-kerning:none;font-size:17.8px" text-anchor="middle" fill="#000">Ratio to ATLAS</text><path d="M62.90,94.70 L62.90,79.10 L61.73,79.10 C61.34,81.44 59.78,82.06 57.21,82.06 L57.21,83.55 C58.84,83.47 60.25,83.31 61.03,83.78 L61.03,94.70 Z" fill="#000"/><text x="66.8" y="95.1" style="font-family:'Liberation Sans',sans-serif;font-kerning:none;font-size:22.8px" text-anchor="start" fill="#000" >0</text><path d="M79.20,184.90 L79.20,169.60 L78.05,169.60 C77.67,171.89 76.14,172.51 73.62,172.51 L73.62,173.96 C75.22,173.88 76.60,173.73 77.36,174.19 L77.36,184.90 Z" fill="#000"/><path d="M48.70,274.50 L48.70,259.20 L47.55,259.20 C47.17,261.50 45.64,262.11 43.12,262.11 L43.12,263.56 C44.72,263.48 46.10,263.33 46.86,263.79 L46.86,274.50 Z" fill="#000"/><text x="53.1" y="274.6" style="font-family:'Liberation Sans',sans-serif;font-kerning:none;font-size:22.8px" text-anchor="start" fill="#000" >0</text><rect x="65.4" y="261.40" width="7.3" height="1.25" fill="#000"/><path d="M79.00,265.60 L79.00,255.40 L78.23,255.40 C77.98,256.93 76.96,257.34 75.28,257.34 L75.28,258.31 C76.35,258.26 77.27,258.15 77.78,258.46 L77.78,265.60 Z" fill="#000"/><path d="M45.80,364.50 L45.80,349.20 L44.65,349.20 C44.27,351.50 42.74,352.11 40.22,352.11 L40.22,353.56 C41.82,353.48 43.20,353.33 43.96,353.79 L43.96,364.50 Z" fill="#000"/><text x="49.9" y="364.6" style="font-family:'Liberation Sans',sans-serif;font-kerning:none;font-size:22.8px" text-anchor="start" fill="#000" >0</text><rect x="62.2" y="350.70" width="7.5" height="1.25" fill="#000"/><text x="79.6" y="354.9" style="font-family:'Liberation Sans',sans-serif;font-kerning:none;font-size:15.6px" text-anchor="end" fill="#000" >2</text><path d="M45.80,453.90 L45.80,438.60 L44.65,438.60 C44.27,440.89 42.74,441.51 40.22,441.51 L40.22,442.96 C41.82,442.88 43.20,442.73 43.96,443.19 L43.96,453.90 Z" fill="#000"/><text x="49.9" y="454.0" style="font-family:'Liberation Sans',sans-serif;font-kerning:none;font-size:22.8px" text-anchor="start" fill="#000" >0</text><rect x="62.2" y="440.10" width="7.5" height="1.25" fill="#000"/><text x="79.6" y="444.29999999999995" style="font-family:'Liberation Sans',sans-serif;font-kerning:none;font-size:15.6px" text-anchor="end" fill="#000" >3</text><path d="M45.80,542.50 L45.80,527.20 L44.65,527.20 C44.27,529.50 42.74,530.11 40.22,530.11 L40.22,531.56 C41.82,531.48 43.20,531.33 43.96,531.79 L43.96,542.50 Z" fill="#000"/><text x="49.9" y="542.6" style="font-family:'Liberation Sans',sans-serif;font-kerning:none;font-size:22.8px" text-anchor="start" fill="#000" >0</text><rect x="62.2" y="528.70" width="7.5" height="1.25" fill="#000"/><text x="79.6" y="532.9" style="font-family:'Liberation Sans',sans-serif;font-kerning:none;font-size:15.6px" text-anchor="end" fill="#000" >4</text><path d="M45.80,631.50 L45.80,616.20 L44.65,616.20 C44.27,618.50 42.74,619.11 40.22,619.11 L40.22,620.56 C41.82,620.48 43.20,620.33 43.96,620.79 L43.96,631.50 Z" fill="#000"/><text x="49.9" y="631.6" style="font-family:'Liberation Sans',sans-serif;font-kerning:none;font-size:22.8px" text-anchor="start" fill="#000" >0</text><rect x="62.2" y="617.70" width="7.5" height="1.25" fill="#000"/><text x="79.6" y="621.9" style="font-family:'Liberation Sans',sans-serif;font-kerning:none;font-size:15.6px" text-anchor="end" fill="#000" >5</text><path d="M74.05,805.00 L74.05,788.00 L72.77,788.00 C72.35,790.55 70.65,791.23 67.84,791.23 L67.84,792.85 C69.63,792.76 71.16,792.59 72.01,793.10 L72.01,805.00 Z" fill="#000"/><path d="M756.05,805.00 L756.05,788.00 L754.77,788.00 C754.35,790.55 752.65,791.23 749.84,791.23 L749.84,792.85 C751.63,792.76 753.16,792.59 754.01,793.10 L754.01,805.00 Z" fill="#000"/><text x="76.8" y="683.4935727530525" style="font-family:'Liberation Sans',sans-serif;font-kerning:none;font-size:24px" text-anchor="end" fill="#000" >2</text><text x="747.6" y="683.4935727530525" style="font-family:'Liberation Sans',sans-serif;font-kerning:none;font-size:24px" text-anchor="start" fill="#000" >2</text><text x="77.0" y="925.6064272469475" style="font-family:'Liberation Sans',sans-serif;font-kerning:none;font-size:24px" text-anchor="end" fill="#000" >0.5</text><text x="747.6" y="925.6064272469475" style="font-family:'Liberation Sans',sans-serif;font-kerning:none;font-size:24px" text-anchor="start" fill="#000" >0.5</text><path d="M245.00,977.70 L245.00,961.20 L243.76,961.20 C243.35,963.68 241.70,964.34 238.98,964.34 L238.98,965.90 C240.71,965.82 242.19,965.66 243.02,966.15 L243.02,977.70 Z" fill="#000"/><text x="491.4" y="977.9" style="font-family:'Liberation Sans',sans-serif;font-kerning:none;font-size:24px" text-anchor="middle" fill="#000" >2</text><text x="742.2" y="977.9" style="font-family:'Liberation Sans',sans-serif;font-kerning:none;font-size:24px" text-anchor="middle" fill="#000" >3</text></svg></body></html>
